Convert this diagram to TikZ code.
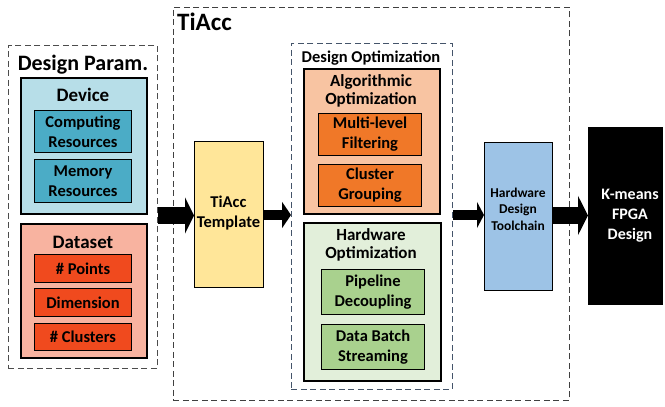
\documentclass[tikz,border=0pt]{standalone}
\usepackage{fontspec}
\setmainfont{Carlito}
\usetikzlibrary{arrows.meta,calc}

\definecolor{devfill}{HTML}{B7DEE8}
\definecolor{devin}{HTML}{4BACC6}
\definecolor{datafill}{HTML}{F8B3A0}
\definecolor{datain}{HTML}{F04A1E}
\definecolor{algfill}{HTML}{F8C4A2}
\definecolor{algin}{HTML}{F07828}
\definecolor{hwfill}{HTML}{E2EFDA}
\definecolor{hwin}{HTML}{A9D18E}
\definecolor{tplfill}{HTML}{FFE699}
\definecolor{toolfill}{HTML}{9DC3E6}
\definecolor{optdash}{HTML}{44546A}

\tikzset{
  rect/.style={draw, rectangle, inner sep=0pt, anchor=north west},
  outerbox/.style={rect, line width=1.6pt},
  innerbox/.style={rect, line width=1pt, align=center, font=\bfseries\fontsize{16.5}{20}\selectfont},
  dashbox/.style={rect, line width=0.9pt, dash pattern=on 6pt off 3.5pt},
  title/.style={inner sep=0pt, align=center, font=\bfseries},
}

\begin{document}
\begin{tikzpicture}[x=1pt, y=-1pt]
\useasboundingbox (0,0) rectangle (665,407);

% Design parameters
\node[dashbox, draw=black!70, minimum width=149, minimum height=323] (dp) at (8,45) {};
\node[title, font=\bfseries\fontsize{22}{24}\selectfont] (dpt) at (83,65) {Design Param.};

\node[outerbox, fill=devfill, minimum width=126, minimum height=136] (dev) at (20,77) {};
\node[title, font=\bfseries\fontsize{19}{22}\selectfont] (devt) at (83,95) {Device};
\node[innerbox, fill=devin, minimum width=97, minimum height=42] (comp) at (34,110) {Computing\\Resources};
\node[innerbox, fill=devin, minimum width=97, minimum height=43] (mem) at (34,159) {Memory\\Resources};

\node[outerbox, fill=datafill, minimum width=126, minimum height=134] (ds) at (20,223) {};
\node[title, font=\bfseries\fontsize{19}{22}\selectfont] (dst) at (83,242) {Dataset};
\node[innerbox, fill=datain, minimum width=97, minimum height=28] (pts) at (34,254) {\# Points};
\node[innerbox, fill=datain, minimum width=97, minimum height=28] (dim) at (34,288) {Dimension};
\node[innerbox, fill=datain, minimum width=97, minimum height=27] (clu) at (34,323) {\# Clusters};

% TiAcc framework
\node[dashbox, draw=black!75, minimum width=396, minimum height=393] (ti) at (173,7) {};
\node[title, font=\bfseries\fontsize{25}{28}\selectfont, anchor=west] (tit) at (177,22) {TiAcc};

\node[rect, line width=1.3pt, fill=tplfill, minimum width=69, minimum height=146] (tpl) at (194,141) {};
\node[title, font=\bfseries\fontsize{16.5}{20}\selectfont] (tplt) at (228.5,213) {TiAcc\\Template};

\node[dashbox, draw=optdash, minimum width=161, minimum height=346] (opt) at (291,43) {};
\node[title, font=\bfseries\fontsize{16.5}{18}\selectfont] (optt) at (371,58) {Design Optimization};

\node[outerbox, fill=algfill, minimum width=136, minimum height=145] (alg) at (303,68) {};
\node[title, font=\bfseries\fontsize{17}{18}\selectfont] (algt) at (371,91) {Algorithmic\\Optimization};
\node[innerbox, fill=algin, minimum width=103, minimum height=42] (mlf) at (318,113) {Multi-level\\Filtering};
\node[innerbox, fill=algin, minimum width=103, minimum height=42] (cg) at (318,164) {Cluster\\Grouping};

\node[outerbox, fill=hwfill, minimum width=137, minimum height=158] (hw) at (303,222) {};
\node[title, font=\bfseries\fontsize{17}{17.5}\selectfont] (hwt) at (371,245) {Hardware\\Optimization};
\node[innerbox, fill=hwin, minimum width=103, minimum height=45] (pd) at (321,269) {Pipeline\\Decoupling};
\node[innerbox, fill=hwin, minimum width=103, minimum height=45] (dbs) at (321,324) {Data Batch\\Streaming};

\node[rect, line width=1.3pt, fill=toolfill, minimum width=68, minimum height=148] (tool) at (484,142) {};
\node[title, font=\bfseries\fontsize{13.5}{16.5}\selectfont] (toolt) at (518,209) {Hardware\\Design\\Toolchain};

% Output design
\node[rect, draw=none, fill=black, minimum width=75, minimum height=178] (km) at (588,127) {};
\node[title, text=white, font=\bfseries\fontsize{16}{20}\selectfont] (kmt) at (630,216) {K-means\\FPGA\\Design};

% Flow arrows
\draw[line width=17pt, -{Triangle[length=9pt, width=36pt]}] (dp.east |- 0,215.5) -- (tpl.west |- 0,215.5);
\draw[line width=10pt, -{Triangle[length=9pt, width=26pt]}] (tpl.east |- 0,215) -- (opt.west |- 0,215);
\draw[line width=10pt, -{Triangle[length=7pt, width=26pt]}] (opt.east |- 0,215) -- (tool.west |- 0,215);
\draw[line width=17pt, -{Triangle[length=10pt, width=39pt]}] (tool.east |- 0,215.5) -- (km.west |- 0,215.5);
\end{tikzpicture}
\end{document}
